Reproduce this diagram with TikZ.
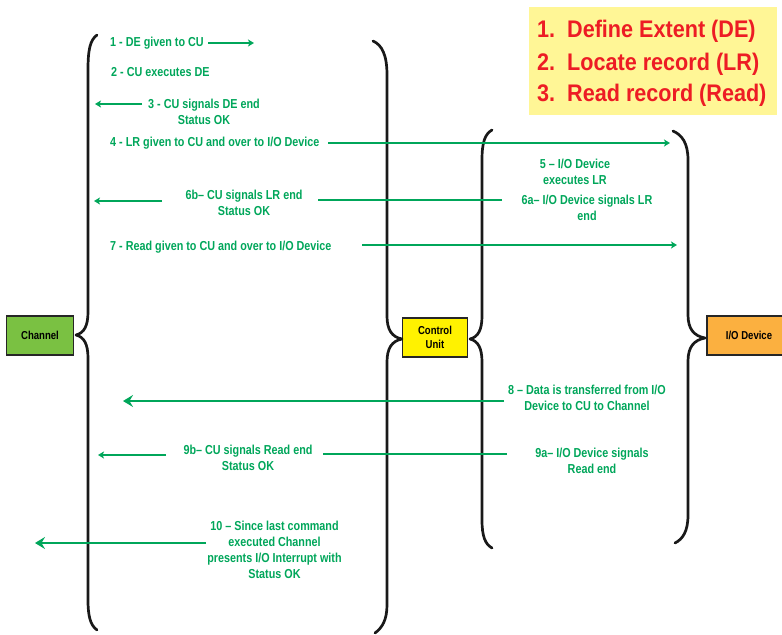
\documentclass[tikz,border=0pt]{standalone}
\usepackage{fontspec}
\newfontfamily\narrowsf{Liberation Sans}[FakeStretch=0.83]
\newfontfamily\legendsf{Liberation Sans}[FakeStretch=0.9]
\usetikzlibrary{arrows.meta}
\definecolor{flowgreen}{RGB}{0,166,90}
\definecolor{chgreen}{RGB}{122,193,66}
\definecolor{cuyellow}{RGB}{255,242,0}
\definecolor{ioorange}{RGB}{251,176,64}
\definecolor{legendyellow}{RGB}{255,246,150}
\definecolor{legendred}{RGB}{237,28,36}
\begin{document}
\begin{tikzpicture}[x=1bp,y=-1bp,
  lbl/.style={text=flowgreen, inner sep=0pt, align=center,
    font=\narrowsf\bfseries\fontsize{13bp}{16bp}\selectfont},
  flow/.style={draw=flowgreen, line width=2bp,
    -{Stealth[length=6bp,width=7bp,inset=1.5bp]}},
  bigflow/.style={draw=flowgreen, line width=2bp,
    -{Stealth[length=10bp,width=12bp,inset=3.5bp]}},
  flowline/.style={draw=flowgreen, line width=2bp},
  brace/.style={draw=black!90, line width=2.7bp, line cap=round, line join=round},
  unitbox/.style={draw=black!85, line width=1.4bp, inner sep=0pt, align=center,
    minimum height=39bp, font=\narrowsf\bfseries\fontsize{11.5bp}{14bp}\selectfont},
  legendline/.style={anchor=base west, inner sep=0pt, text=legendred,
    font=\legendsf\bfseries\fontsize{24bp}{28bp}\selectfont}]
\clip (0,0) rectangle (782,635);
\useasboundingbox (0,0) rectangle (782,635);

% legend of the three commands
\node[fill=legendyellow, minimum width=248bp, minimum height=108bp, inner sep=0pt] (legend) at (653,61) {};
\node[legendline] (cmd1) at (537,38) {\makebox[30bp][l]{1.}Define Extent (DE)};
\node[legendline] (cmd2) at (537,70.5) {\makebox[30bp][l]{2.}Locate record (LR)};
\node[legendline] (cmd3) at (537,101.5) {\makebox[30bp][l]{3.}Read record (Read)};

% the three units
\node[unitbox, fill=chgreen, minimum width=67bp] (chan) at (40,335.5) {Channel};
\node[unitbox, fill=cuyellow, minimum width=65bp] (cu) at (435,337.5) {Control\\Unit};
\node[unitbox, fill=ioorange, minimum width=84bp] (io) at (749,335.5) {I/O Device};

% braces grouping the exchanges
\draw[brace] (97,35) .. controls (90,40) and (88,50) .. (88,70) -- (88,312)
  .. controls (88,326) and (84,333) .. (76,335)
  .. controls (84,337) and (88,344) .. (88,358) -- (88,600)
  .. controls (88,615) and (90,625) .. (97,630);
\draw[brace] (373,41) .. controls (382,45) and (387,55) .. (387,75) -- (387,316)
  .. controls (387,330) and (392,337) .. (402,339)
  .. controls (392,341) and (387,348) .. (387,362) -- (387,605)
  .. controls (387,620) and (382,628) .. (375,633);
\draw[brace] (492,130) .. controls (485,134) and (482,142) .. (482,160) -- (482,316)
  .. controls (482,330) and (478,337) .. (470,339)
  .. controls (478,341) and (482,348) .. (482,362) -- (482,520)
  .. controls (482,536) and (485,544) .. (492,548);
\draw[brace] (673,131) .. controls (682,135) and (688,143) .. (688,160) -- (688,315)
  .. controls (688,329) and (694,336) .. (705,338)
  .. controls (694,340) and (688,347) .. (688,361) -- (688,515)
  .. controls (688,531) and (683,539) .. (675,543);

% step labels
\node[lbl, anchor=west] (s1) at (110,43) {1 - DE given to CU};
\node[lbl, anchor=west] (s2) at (111,72) {2 - CU executes DE};
\node[lbl] (s3) at (204,111.5) {3 - CU signals DE end\\Status OK};
\node[lbl, anchor=west] (s4) at (110,143) {4 - LR given to CU and over to I/O Device};
\node[lbl] (s5) at (575,171.5) {5 – I/O Device\\executes LR};
\node[lbl] (s6a) at (587,207.5) {6a– I/O Device signals LR\\end};
\node[lbl] (s6b) at (244,203) {6b– CU signals LR end\\Status OK};
\node[lbl, anchor=west] (s7) at (110,247) {7 - Read given to CU and over to I/O Device};
\node[lbl] (s8) at (587,398) {8 – Data is transferred from I/O\\Device to CU to Channel};
\node[lbl] (s9b) at (248,457.5) {9b– CU signals Read end\\Status OK};
\node[lbl] (s9a) at (592,461) {9a– I/O Device signals\\Read end};
\node[lbl] (s10) at (274.5,550) {10 – Since last command\\executed Channel\\presents I/O Interrupt with\\Status OK};

% arrow end points
\coordinate (a1s) at (208,43);  \coordinate (a1e) at (254,43);
\coordinate (a3s) at (142,104); \coordinate (a3e) at (95,104);
\coordinate (a4s) at (328,143); \coordinate (a4e) at (670,143);
\coordinate (l6s) at (502,200); \coordinate (l6e) at (318,200);
\coordinate (a6s) at (162,201); \coordinate (a6e) at (94,201);
\coordinate (a7s) at (362,245); \coordinate (a7e) at (677,245);
\coordinate (a8s) at (504,401); \coordinate (a8e) at (123,401);
\coordinate (l9s) at (507,454); \coordinate (l9e) at (323,454);
\coordinate (a9s) at (166,455); \coordinate (a9e) at (98,455);
\coordinate (a10s) at (206,543); \coordinate (a10e) at (35,543);

% arrows
\draw[flow] (a1s) -- (a1e);
\draw[flow] (a3s) -- (a3e);
\draw[flow] (a4s) -- (a4e);
\draw[flowline] (l6s) -- (l6e);
\draw[flow] (a6s) -- (a6e);
\draw[flow] (a7s) -- (a7e);
\draw[bigflow] (a8s) -- (a8e);
\draw[flowline] (l9s) -- (l9e);
\draw[flow] (a9s) -- (a9e);
\draw[bigflow] (a10s) -- (a10e);
\end{tikzpicture}
\end{document}
